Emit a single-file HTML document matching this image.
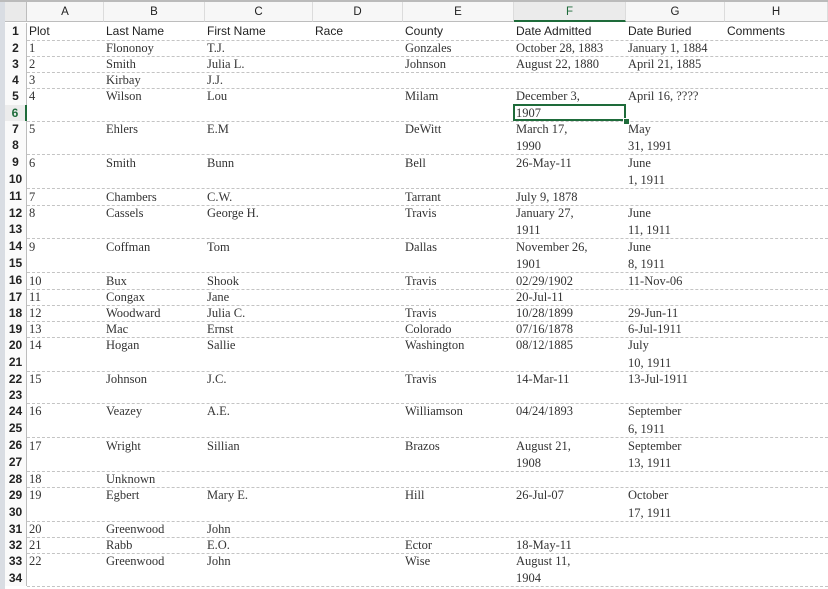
<!DOCTYPE html>
<html><head><meta charset="utf-8">
<style>
body{margin:0;width:828px;height:589px;overflow:hidden;background:#fff;position:relative;font-family:"Liberation Sans",sans-serif}
.c{position:absolute;white-space:nowrap;font-size:12px;color:#222}
.s{font-family:"Liberation Serif",serif;font-size:12.5px;color:#333}
.h{position:absolute;top:2px;height:20px;line-height:20px;text-align:center;font-size:11.5px;color:#222;background:#f7f7f7;border-right:1px solid #dcdcdc;border-bottom:1px solid #bdbdbd;box-sizing:border-box}
.rn{position:absolute;left:5px;width:22px;text-align:center;font-size:12px;font-weight:bold;color:#222;background:#fafafa;border-right:1px solid #bdbdbd;box-sizing:border-box}
.ln{position:absolute;left:27px;width:801px;border-top:1px dashed #c4c4c4;height:0}
</style></head><body>
<div style="position:absolute;left:0;top:0;width:5px;height:589px;background:#d9dde3"></div>
<div style="position:absolute;left:0;top:0;width:828px;height:2px;background:#bbb"></div>
<div style="position:absolute;left:5px;top:2px;width:22px;height:20px;background:#eaeaea;border-bottom:1px solid #bdbdbd;border-right:1px solid #bdbdbd;box-sizing:border-box"></div>
<div id="g"></div>
<script>
const g=document.getElementById('g');
const colL=[27,104,205,313,403,514,626,725,828];
const colN=['A','B','C','D','E','F','G','H'];
for(let i=0;i<8;i++){const d=document.createElement('div');d.className='h';


d.style.left=colL[i]+'px';d.style.width=(colL[i+1]-colL[i])+'px';d.textContent=colN[i];
if(i==5){d.style.color='#1e6b3a';d.style.background='#ebebeb';d.style.borderBottom='2px solid #1e6b3a';}
g.appendChild(d);}
const b=[23,39.5,56,72,88,104.5,121,137,154,171,188,205,221,238,255,272,289,305,321,337,353.5,370.5,387,403,419.5,436.5,453.5,470.5,487,503.5,520.5,537,553,569.5,586];
const cont=[6,8,10,13,15,21,23,25,27,30,34];
for(let r=1;r<=34;r++){const d=document.createElement('div');d.className='rn';


d.style.top=b[r-1]+'px';d.style.height=(b[r]-b[r-1])+'px';d.style.lineHeight=(b[r]-b[r-1])+'px';d.textContent=r;
if(r==6){d.style.color='#1e6b3a';d.style.background='#ececec';d.style.borderRight='2px solid #1e6b3a';}
g.appendChild(d);
if(r>1 && !cont.includes(r)){const l=document.createElement('div');l.className='ln';


l.style.top=Math.round(b[r-1])+'px';g.appendChild(l);}}
const l2=document.createElement('div');l2.className='ln';


l2.style.top='586px';g.appendChild(l2);
const rows={
1:['Plot','Last Name','First Name','Race','County','Date Admitted','Date Buried','Comments'],
2:['1','Flononoy','T.J.','','Gonzales','October 28, 1883','January 1, 1884'],
3:['2','Smith','Julia L.','','Johnson','August 22, 1880','April 21, 1885'],
4:['3','Kirbay','J.J.'],
5:['4','Wilson','Lou','','Milam','December 3,','April 16, ????'],
6:['','','','','','1907'],
7:['5','Ehlers','E.M','','DeWitt','March 17,','May'],
8:['','','','','','1990','31, 1991'],
9:['6','Smith','Bunn','','Bell','26-May-11','June'],
10:['','','','','','','1, 1911'],
11:['7','Chambers','C.W.','','Tarrant','July 9, 1878'],
12:['8','Cassels','George H.','','Travis','January 27,','June'],
13:['','','','','','1911','11, 1911'],
14:['9','Coffman','Tom','','Dallas','November 26,','June'],
15:['','','','','','1901','8, 1911'],
16:['10','Bux','Shook','','Travis','02/29/1902','11-Nov-06'],
17:['11','Congax','Jane','','','20-Jul-11'],
18:['12','Woodward','Julia C.','','Travis','10/28/1899','29-Jun-11'],
19:['13','Mac','Ernst','','Colorado','07/16/1878','6-Jul-1911'],
20:['14','Hogan','Sallie','','Washington','08/12/1885','July'],
21:['','','','','','','10, 1911'],
22:['15','Johnson','J.C.','','Travis','14-Mar-11','13-Jul-1911'],
24:['16','Veazey','A.E.','','Williamson','04/24/1893','September'],
25:['','','','','','','6, 1911'],
26:['17','Wright','Sillian','','Brazos','August 21,','September'],
27:['','','','','','1908','13, 1911'],
28:['18','Unknown'],
29:['19','Egbert','Mary E.','','Hill','26-Jul-07','October'],
30:['','','','','','','17, 1911'],
31:['20','Greenwood','John'],
32:['21','Rabb','E.O.','','Ector','18-May-11'],
33:['22','Greenwood','John','','Wise','August 11,'],
34:['','','','','','1904']};
for(const r in rows){rows[r].forEach((t,i)=>{if(!t)return;const d=document.createElement('div');
d.className='c'+(r==1?'':' s');


d.style.left=(colL[i]+(i==0?2:2))+'px';d.style.top=(b[r-1]+1)+'px';d.style.lineHeight=(b[r]-b[r-1]-1)+'px';d.textContent=t;g.appendChild(d);});}
const sel=document.createElement('div');


sel.style.cssText='position:absolute;left:513px;top:104px;width:113px;height:17px;border:2px solid #1e6b3a;box-sizing:border-box';
g.appendChild(sel);
const hd=document.createElement('div');


hd.style.cssText='position:absolute;left:623px;top:118px;width:5px;height:5px;background:#1e6b3a;border:1px solid #fff';
g.appendChild(hd);
</script>
</body></html>
